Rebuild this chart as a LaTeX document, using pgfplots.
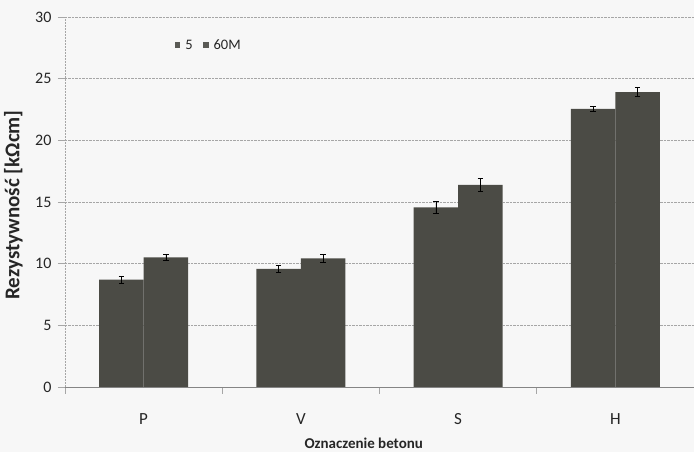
\documentclass[border=0pt]{standalone}
\usepackage{fontspec}
\setmainfont{Carlito}
\usepackage{pgfplots}
\pgfplotsset{compat=1.18}
\definecolor{barfill}{HTML}{4B4B45}
\definecolor{legfill}{HTML}{5A5A55}
\definecolor{gridc}{HTML}{A6A6A6}
\definecolor{txt}{HTML}{262626}
\begin{document}
\begin{tikzpicture}
\useasboundingbox (-65pt,-65pt) rectangle (629pt,387pt);
\fill[white!97!black] (-65pt,-65pt) rectangle (629pt,387pt);
\clip (-65pt,-65pt) rectangle (629pt,387pt);
\begin{axis}[
  at={(0,0)}, anchor=south west,
  scale only axis, width=629pt, height=370pt,
  ybar=0pt, bar width=0.283,
  xmin=-0.5, xmax=3.5, ymin=0, ymax=30,
  ytick={0,5,...,30},
  xtick={0,1,2,3}, xticklabels={P,V,S,H},
  minor xtick={-0.5,0.5,1.5,2.5,3.5},
  major x tick style={draw=none},
  minor tick length=7pt, major tick length=7pt,
  tick align=outside,
  tick style={gridc, line width=0.8pt},
  axis x line*=bottom, axis y line*=left,
  x axis line style={gridc!80!black, line width=0.9pt, -},
  y axis line style={gridc, line width=0.8pt, dash pattern=on 2pt off 1pt, -},
  ymajorgrids,
  major grid style={gridc, line width=0.8pt, dash pattern=on 2.5pt off 1pt},
  /pgf/number format/assume math mode=true,
  font=\fontsize{16}{18}\selectfont,
  ticklabel style={font=\fontsize{16}{18}\selectfont, text=txt},
  xticklabel style={yshift=-16pt, font=\fontsize{17}{19}\selectfont},
  yticklabel style={xshift=-3pt},
  every axis y label/.style={at={(axis description cs:-0.0822,0.492)}, rotate=90, anchor=center,
    font=\bfseries\fontsize{21}{23}\selectfont, text=txt},
  every axis x label/.style={at={(axis description cs:0.475,-0.151)}, anchor=center,
    font=\bfseries\fontsize{15}{18}\selectfont, text=txt},
  ylabel={Rezystywność [kΩcm]},
  xlabel={Oznaczenie betonu},
  legend style={at={(axis description cs:0.174,0.924)}, anchor=west, draw=none, fill=none,
    inner sep=0pt, font=\fontsize{14.5}{16}\selectfont, text=txt,
    nodes={inner sep=1pt},
    /tikz/every odd column/.append style={column sep=4pt},
    /tikz/every even column/.append style={column sep=9pt}},
  legend columns=-1,
  legend image code/.code={\fill[legfill] (0pt,-2.9pt) rectangle (5.8pt,2.9pt);},
  error bars/error bar style={black, line width=0.6pt},
  error bars/error mark options={black, line width=0.6pt, rotate=90, mark size=2.8pt},
]
\addplot[fill=barfill, draw=none,
  error bars/.cd, y dir=both, y explicit]
  table[x=x, y=y, y error=e] {
  x y e
  0 8.70 0.27
  1 9.57 0.30
  2 14.57 0.45
  3 22.55 0.23
};
\addlegendentry{5}
\addplot[fill=barfill, draw=none,
  error bars/.cd, y dir=both, y explicit]
  table[x=x, y=y, y error=e] {
  x y e
  0 10.50 0.26
  1 10.43 0.30
  2 16.38 0.52
  3 23.90 0.37
};
\addlegendentry{60M}
\end{axis}
\end{tikzpicture}
\end{document}
